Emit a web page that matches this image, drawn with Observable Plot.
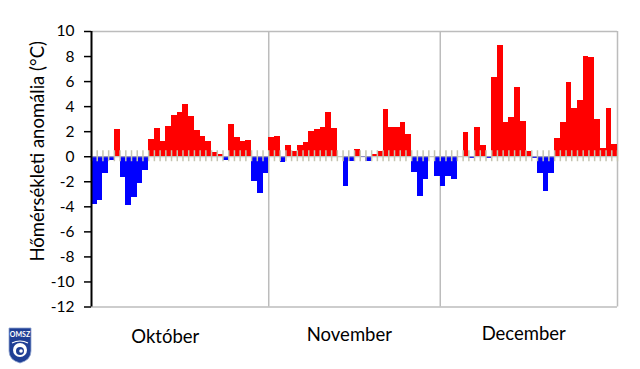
<!DOCTYPE html>
<html>
<head>
<meta charset="utf-8">
<script src="https://cdn.jsdelivr.net/npm/d3@7"></script>
<script src="https://cdn.jsdelivr.net/npm/@observablehq/plot@0.6"></script>
<style>
  html, body { margin: 0; padding: 0; background: #fff; }
  #wrap { position: relative; width: 640px; height: 369px; }
  #logo { position: absolute; left: 8px; top: 327px; }
</style>
</head>
<body>
<div id="wrap"></div>
<script>
// Daily temperature anomalies (°C)
const october = [-3.8,-3.5,-1.3,-0.27,2.15,-1.65,-3.9,-3.25,-2.1,-1.1,1.4,2.25,1.2,2.45,3.3,3.5,4.15,3.2,2.1,1.6,1.2,0.35,0.2,-0.27,2.6,1.5,1.2,1.3,-2.0,-2.95,-1.35];
const november = [1.5,1.6,-0.5,0.9,0.45,0.9,1.1,2.05,2.15,2.35,3.5,2.25,0,-2.4,-0.35,0.55,-0.1,-0.35,0.15,0.45,3.75,2.35,2.35,2.7,1.75,-1.25,-3.15,-1.8,0,-1.55];
const december = [-2.4,-1.55,-1.8,0,1.95,-0.15,2.35,0.9,-0.15,6.3,8.9,2.7,3.1,5.55,2.8,0.45,-0.15,-1.35,-2.75,-1.35,1.45,2.7,5.9,3.85,4.5,8.0,7.9,3.0,0.65,3.85,1.0];
const monthNames = ["Október", "November", "December"];
const monthLabelX = [12.9, 45.1, 75.6];
const monthLabelDy = [30.5, 28.5, 27];
const yTicks = [-12,-10,-8,-6,-4,-2,0,2,4,6,8,10];
const yTitle = "Hőmérsékleti anomália (°C)";

const values = [...october, ...november, ...december];
const data = values.map((v, i) => ({i, v}));
const nDays = values.length;
const boundaries = d3.range(nDays + 1);
const monthStarts = [october.length, october.length + november.length];

const grey = "#bcbcbc";
const chart = Plot.plot({
  width: 640,
  height: 369,
  marginTop: 31,
  marginBottom: 62.5,
  marginLeft: 91,
  marginRight: 23,
  style: {fontFamily: "Lato, 'Open Sans', sans-serif", fontSize: "15px", color: "#000", background: "#fff"},
  x: {domain: [0, nDays], axis: null},
  y: {domain: [-12, 10], axis: null},
  marks: [
    Plot.ruleY([10, -12], {stroke: grey, strokeWidth: 1.5}),
    Plot.ruleX([nDays], {stroke: grey, strokeWidth: 1.5}),
    Plot.ruleX(monthStarts, {stroke: grey, strokeWidth: 1.5}),
    Plot.rectY(data, {x1: "i", x2: d => d.i + 1, y1: 0, y2: "v", fill: d => d.v >= 0 ? "#ff0000" : "#0000ff", shapeRendering: "crispEdges"}),
    Plot.ruleY([0], {stroke: "#b8b8b8", strokeWidth: 1}),
    Plot.ruleX(boundaries, {y1: 0, y2: 0, insetTop: -6, insetBottom: -5, stroke: "#c4c4b0", strokeWidth: 1.5}),
    Plot.axisY({ticks: yTicks, tickSize: 7, tickPadding: 10, tickFormat: d => String(d), label: null, stroke: "#000", strokeWidth: 1.5, fontSize: 15.5}),
    Plot.ruleX([0], {stroke: "#000", strokeWidth: 2}),
    Plot.text([yTitle], {frameAnchor: "left", textAnchor: "middle", lineAnchor: "middle", rotate: -90, dx: -53, dy: -18, fontSize: 18.5}),
    ...monthNames.map((m, k) => Plot.text([m], {x: monthLabelX[k], frameAnchor: "bottom", lineAnchor: "middle", dy: monthLabelDy[k], fontSize: 18.5}))
  ]
});
const wrap = document.getElementById("wrap");
wrap.appendChild(chart);
wrap.insertAdjacentHTML("beforeend", `
<svg id="logo" width="24" height="37" viewBox="0 0 24 37">
  <path d="M1 1 H23 V24 Q23 33 12 36 Q1 33 1 24 Z" fill="#1f3f95" stroke="#8fa3cf" stroke-width="0.8"/>
  <text x="12" y="10" text-anchor="middle" font-family="Lato, sans-serif" font-size="7" font-weight="bold" fill="#fff">OMSZ</text>
  <circle cx="12" cy="23" r="7" fill="#fff"/>
  <circle cx="12" cy="24" r="4" fill="#1f3f95"/>
  <circle cx="13" cy="24" r="1.8" fill="#fff"/>
  <path d="M4 16 Q12 12 20 16" stroke="#fff" stroke-width="1.2" fill="none"/>
</svg>`);
</script>
</body>
</html>
